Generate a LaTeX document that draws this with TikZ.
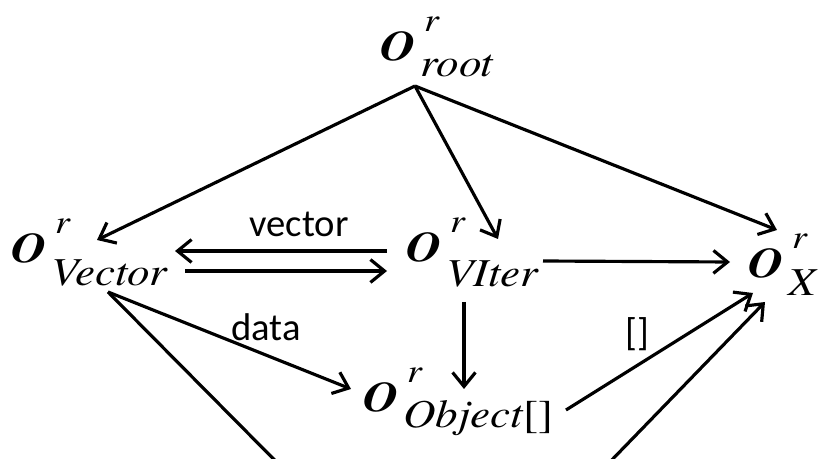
\documentclass[tikz,border=0pt]{standalone}
\usepackage{fontspec}
\usepackage{graphicx}
\newfontfamily\varfont{texgyretermes}[Extension=.otf,UprightFont=*-regular,
  ItalicFont=*-italic,BoldFont=*-bold,BoldItalicFont=*-bolditalic]
\newfontfamily\lblfont{Carlito}
\usetikzlibrary{arrows.meta}
% O^r_{sub}, optional arg = how far the subscript drops
\newcommand\ovar[2][9pt]{\scalebox{1.14}[1]{\varfont{\fontsize{24}{28}\selectfont\bfseries\itshape O}\hspace{2.5pt}%
  \rlap{\hspace{2pt}\raisebox{17pt}{\fontsize{19}{22}\selectfont\itshape r}}%
  \raisebox{-#1}{\fontsize{22.5}{27}\selectfont\itshape #2}}}

\begin{document}
\begin{tikzpicture}[x=0.02cm,y=-0.02cm,
    var/.style={inner sep=0pt,anchor=base west},
    lbl/.style={inner sep=0pt,font=\lblfont\fontsize{22}{26}\selectfont},
    edge/.style={line width=1.8pt},
    arr/.style={edge,-{Straight Barb[length=8pt,width=13pt]}}]
    \useasboundingbox (0,0) rectangle (819,459);
    \clip (0,0) rectangle (819,459);
    % objects
    \node[var] (root) at (380,61) {\ovar{root}};
    \node[var] (vec) at (11,263) {\ovar[13pt]{Vector}};
    \node[var] (iter) at (406,262) {\ovar[14pt]{VIter}};
    \node[var] (xnode) at (748,278) {\ovar[10pt]{X}};
    \node[var] (obj) at (363,412) {\ovar{Object{\upshape[]}}};
    \coordinate (low) at (445,632);
    % edges
    \draw[arr] ([shift={(35,25)}]root.base west) -- ([shift={(86,-23)}]vec.base west);
    \draw[arr] ([shift={(35,25)}]root.base west) -- ([shift={(92,-23)}]iter.base west);
    \draw[arr] ([shift={(35,25)}]root.base west) -- ([shift={(29,-48)}]xnode.base west);
    \draw[arr] ([shift={(-19,-11)}]iter.base west) -- ([shift={(164,-12)}]vec.base west);
    \draw[arr] ([shift={(174,8)}]vec.base west) -- ([shift={(-19,9)}]iter.base west);
    \draw[arr] ([shift={(137,-1)}]iter.base west) -- ([shift={(-18,-16)}]xnode.base west);
    \draw[arr] ([shift={(58,40)}]iter.base west) -- ([shift={(101,-23)}]obj.base west);
    \draw[arr] ([shift={(97,29)}]vec.base west) -- ([shift={(-12,-23)}]obj.base west);
    \draw[arr] ([shift={(203,-2)}]obj.base west) -- ([shift={(5,15)}]xnode.base west);
    \draw[edge] ([shift={(97,29)}]vec.base west) -- (low);
    \draw[arr] (low) -- ([shift={(17,24)}]xnode.base west);
    % labels
    \node[lbl] (vlbl) at (299,224) {vector};
    \node[lbl] (dlbl) at (266,327) {data};
    \node[lbl] (blbl) at (637,334) {[]};
\end{tikzpicture}
\end{document}
